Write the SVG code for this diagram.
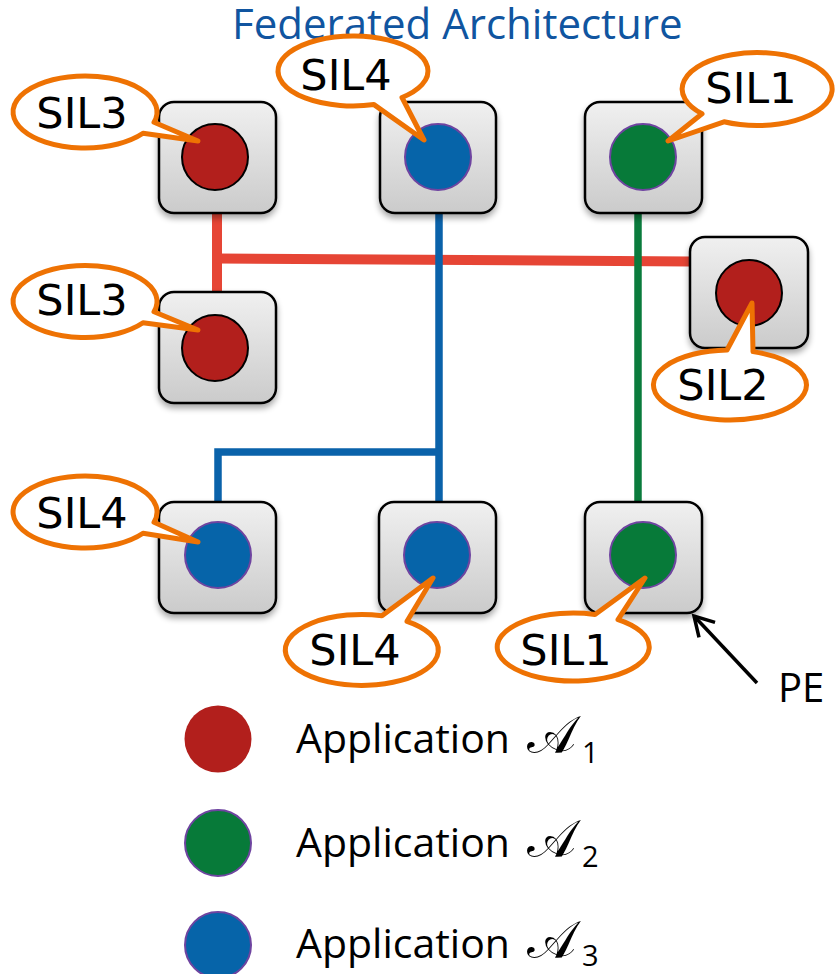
<svg xmlns="http://www.w3.org/2000/svg" width="837" height="974" viewBox="0 0 837 974">
  <defs>
    <linearGradient id="peFill" x1="0" y1="0" x2="0" y2="1">
      <stop offset="0" stop-color="#F0F0F0"/>
      <stop offset="1" stop-color="#CBCBCB"/>
    </linearGradient>
    <filter id="shadow" x="-20%" y="-20%" width="140%" height="150%">
      <feGaussianBlur in="SourceAlpha" stdDeviation="3"/>
      <feOffset dx="0" dy="4" result="blur"/>
      <feComponentTransfer><feFuncA type="linear" slope="0.35"/></feComponentTransfer>
      <feMerge><feMergeNode/><feMergeNode in="SourceGraphic"/></feMerge>
    </filter>
    <marker id="openArrow" markerUnits="userSpaceOnUse" markerWidth="30" markerHeight="30" viewBox="-24 -15 30 30" refX="0" refY="0" orient="auto" overflow="visible">
      <path d="M-19,-11 L0,0 L-19,11" fill="none" stroke="#000" stroke-width="3.5" stroke-linejoin="miter"/>
    </marker>
  </defs>
  <style>
    .pe { fill: url(#peFill); stroke: #000; stroke-width: 2.5; filter: url(#shadow); }
    .a1 { fill: #B21F1C; stroke: #000; stroke-width: 2; }
    .a2 { fill: #077A39; stroke: #6E44A0; stroke-width: 2; }
    .a3 { fill: #0664A9; stroke: #6E44A0; stroke-width: 2; }
    .callout { fill: #fff; stroke: #EE7203; stroke-width: 5; stroke-linejoin: round; }
    .sil { font-family: "DejaVu Sans", "Liberation Sans", sans-serif; font-size: 43px; fill: #000; text-anchor: middle; }
    .legend { font-family: "Open Sans", "Liberation Sans", sans-serif; font-size: 41px; fill: #000; }
    .script { font-family: "DejaVu Serif", "DejaVu Sans", "Noto Sans", serif; font-size: 52px; fill: #000; }
    .sub { font-family: "Open Sans", "Liberation Sans", sans-serif; font-size: 29px; fill: #000; }
    .bus1 { stroke: #E64535; stroke-width: 10; fill: none; }
    .bus2 { stroke: #0A7B3C; stroke-width: 7.5; fill: none; }
    .bus3 { stroke: #0A62AA; stroke-width: 7.5; fill: none; stroke-linejoin: miter; }
  </style>

  <rect width="837" height="974" fill="#fff"/>

  <text x="232" y="39" font-family="'Open Sans', 'Liberation Sans', sans-serif" font-size="42" fill="#1055A0">Federated Architecture</text>

  <!-- links between processing elements -->
  <g id="connectors">
    <path class="bus1" d="M217,213 V292"/>
    <path class="bus1" d="M217,258.5 L690,261.5"/>
    <path class="bus3" d="M439,213 V502"/>
    <path class="bus3" d="M439,452 H218 V502"/>
    <path class="bus2" d="M638,213 V502"/>
    <path d="M757,683 L694,616" stroke="#000" stroke-width="3.5" marker-end="url(#openArrow)"/>
  </g>

  <!-- processing elements -->
  <g id="pe-tl"><rect class="pe" x="159" y="102" width="117" height="111" rx="15"/><circle class="a1" cx="215" cy="157" r="33"/></g>
  <g id="pe-tm"><rect class="pe" x="380" y="102" width="116" height="111" rx="15"/><circle class="a3" cx="438" cy="157" r="33"/></g>
  <g id="pe-tr"><rect class="pe" x="585" y="102" width="117" height="111" rx="15"/><circle class="a2" cx="643" cy="157" r="33"/></g>
  <g id="pe-r"><rect class="pe" x="690" y="237" width="118" height="111" rx="15"/><circle class="a1" cx="749" cy="293" r="33"/></g>
  <g id="pe-ml"><rect class="pe" x="159" y="292" width="117" height="111" rx="15"/><circle class="a1" cx="215" cy="348" r="33"/></g>
  <g id="pe-bl"><rect class="pe" x="159" y="502" width="117" height="111" rx="15"/><circle class="a3" cx="218" cy="555" r="33"/></g>
  <g id="pe-bm"><rect class="pe" x="379" y="502" width="117" height="111" rx="15"/><circle class="a3" cx="437" cy="555" r="33"/></g>
  <g id="pe-br"><rect class="pe" x="585" y="502" width="117" height="111" rx="15"/><circle class="a2" cx="643" cy="555" r="33"/></g>

  <!-- SIL callouts -->
  <g id="sil-tl">
    <path class="callout" d="M154,122.3 A72,36 0 1 0 143,133.3 L198,141 Z"/>
    <text class="sil" x="82" y="128">SIL3</text>
  </g>
  <g id="sil-tm">
    <path class="callout" d="M374,104.6 A75,35 0 1 1 402,97.5 L424,140 Z"/>
    <text class="sil" x="346" y="90">SIL4</text>
  </g>
  <g id="sil-tr">
    <path class="callout" d="M702,113.8 A75,36.5 0 1 1 724,121.8 L668,141 Z"/>
    <text class="sil" x="751" y="103">SIL1</text>
  </g>
  <g id="sil-ml">
    <path class="callout" d="M154,311.8 A72,36 0 1 0 143,322.8 L198,330 Z"/>
    <text class="sil" x="82" y="315">SIL3</text>
  </g>
  <g id="sil-r">
    <path class="callout" d="M727,350 A76.5,35 0 1 0 753,351.6 L752,303 Z"/>
    <text class="sil" x="723" y="400">SIL2</text>
  </g>
  <g id="sil-bl">
    <path class="callout" d="M154,522.3 A72,36 0 1 0 143,533.3 L198,542 Z"/>
    <text class="sil" x="82" y="528">SIL4</text>
  </g>
  <g id="sil-bm">
    <path class="callout" d="M382,615.7 A76.5,35.5 0 1 0 407,621.3 L433,578 Z"/>
    <text class="sil" x="355" y="665">SIL4</text>
  </g>
  <g id="sil-br">
    <path class="callout" d="M595,614.5 A76,34 0 1 0 618,619.6 L645,578 Z"/>
    <text class="sil" x="566" y="665">SIL1</text>
  </g>

  <text x="778" y="702" font-family="'Open Sans', 'Liberation Sans', sans-serif" font-size="40" fill="#000">PE</text>

  <!-- legend -->
  <g id="legend-a1">
    <circle cx="218" cy="739" r="33.5" fill="#B21F1C"/>
    <text class="legend" x="296" y="753">Application</text>
    <text class="script" x="527" y="753">𝒜</text>
    <text class="sub" x="582" y="763">1</text>
  </g>
  <g id="legend-a2">
    <circle class="a2" cx="218" cy="843" r="33"/>
    <text class="legend" x="296" y="857">Application</text>
    <text class="script" x="527" y="857">𝒜</text>
    <text class="sub" x="582" y="867">2</text>
  </g>
  <g id="legend-a3">
    <circle class="a3" cx="218" cy="945" r="33"/>
    <text class="legend" x="296" y="958">Application</text>
    <text class="script" x="527" y="958">𝒜</text>
    <text class="sub" x="582" y="966">3</text>
  </g>
</svg>
